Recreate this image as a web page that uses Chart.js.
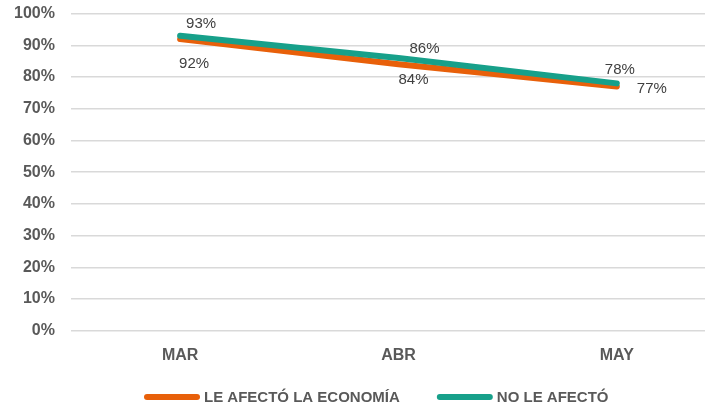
<!DOCTYPE html>
<html>
<head>
<meta charset="utf-8">
<script src="https://cdn.jsdelivr.net/npm/chart.js@4"></script>
<style>
html,body{margin:0;padding:0;overflow:hidden;background:#fff;}
#wrap{position:absolute;left:0;top:-12px;width:726px;height:421px;}
</style>
</head>
<body>
<div id="wrap"><canvas id="c"></canvas></div>
<script>
const categories = ['MAR', 'ABR', 'MAY'];
const seriesNames = ['LE AFECTÓ LA ECONOMÍA', 'NO LE AFECTÓ'];
const afectoValues = [92, 84, 77];
const noAfectoValues = [93, 86, 78];
const yTicks = [0, 10, 20, 30, 40, 50, 60, 70, 80, 90, 100];

const colors = ['#E8600A', '#17A08A'];
const FONT = '"Liberation Sans", Arial, sans-serif';

// label offsets (styling) relative to each point
const labelOffsets = [
  [[14, 25], [15, 16], [35, 2]],
  [[21, -12], [26, -9], [3, -14]]
];

const labelPlugin = {
  id: 'pointLabels',
  afterDatasetsDraw(chart) {
    const ctx = chart.ctx;
    ctx.save();
    ctx.font = '15px ' + FONT;
    ctx.fillStyle = '#404040';
    ctx.textAlign = 'center';
    ctx.textBaseline = 'middle';
    chart.data.datasets.forEach((ds, di) => {
      const meta = chart.getDatasetMeta(di);
      meta.data.forEach((pt, i) => {
        const off = labelOffsets[di][i];
        ctx.fillText(ds.data[i] + '%', pt.x + off[0], pt.y + off[1]);
      });
    });
    ctx.restore();
  }
};

const legendPlugin = {
  id: 'customLegend',
  afterDraw(chart) {
    const ctx = chart.ctx;
    ctx.save();
    ctx.font = 'bold 15px ' + FONT;
    ctx.textBaseline = 'middle';
    ctx.textAlign = 'left';
    const y = 409;
    let x = 144;
    const lineLen = 56, gapText = 4, gapItem = 37, lw = 6;
    chart.data.datasets.forEach((ds) => {
      ctx.strokeStyle = ds.borderColor;
      ctx.lineWidth = lw;
      ctx.lineCap = 'round';
      ctx.beginPath();
      ctx.moveTo(x + lw / 2, y);
      ctx.lineTo(x + lineLen - lw / 2, y);
      ctx.stroke();
      x += lineLen + gapText;
      ctx.fillStyle = '#595959';
      ctx.fillText(ds.label, x, y + 1);
      x += ctx.measureText(ds.label).width + gapItem;
    });
    ctx.restore();
  }
};

new Chart(document.getElementById('c'), {
  type: 'line',
  data: {
    labels: categories,
    datasets: [
      {
        label: seriesNames[0],
        data: afectoValues,
        borderColor: colors[0],
        backgroundColor: colors[0],
        borderWidth: 6,
        borderCapStyle: 'round',
        pointRadius: 0,
        tension: 0,
        order: 1
      },
      {
        label: seriesNames[1],
        data: noAfectoValues,
        borderColor: colors[1],
        backgroundColor: colors[1],
        borderWidth: 6,
        borderCapStyle: 'round',
        pointRadius: 0,
        tension: 0,
        order: 0
      }
    ]
  },
  options: {
    responsive: true,
    maintainAspectRatio: false,
    animation: false,
    devicePixelRatio: 1,
    layout: { padding: { left: -2, top: 0, right: 0, bottom: 37 } },
    scales: {
      x: {
        offset: true,
        grid: { display: false },
        border: { display: false },
        ticks: {
          color: '#595959',
          font: { family: FONT, size: 16, weight: 'bold' },
          padding: 7
        }
      },
      y: {
        min: 0,
        max: 100,
        afterBuildTicks(axis) { axis.ticks = yTicks.map(v => ({ value: v })); },
        grid: { color: '#d9d9d9', lineWidth: 1.5, drawTicks: false },
        border: { display: false },
        ticks: {
          color: '#595959',
          font: { family: FONT, size: 16, weight: 'bold' },
          padding: 16,
          callback: v => v + '%'
        }
      }
    },
    plugins: {
      legend: { display: false },
      tooltip: { enabled: false }
    }
  },
  plugins: [labelPlugin, legendPlugin]
});
</script>
</body>
</html>
